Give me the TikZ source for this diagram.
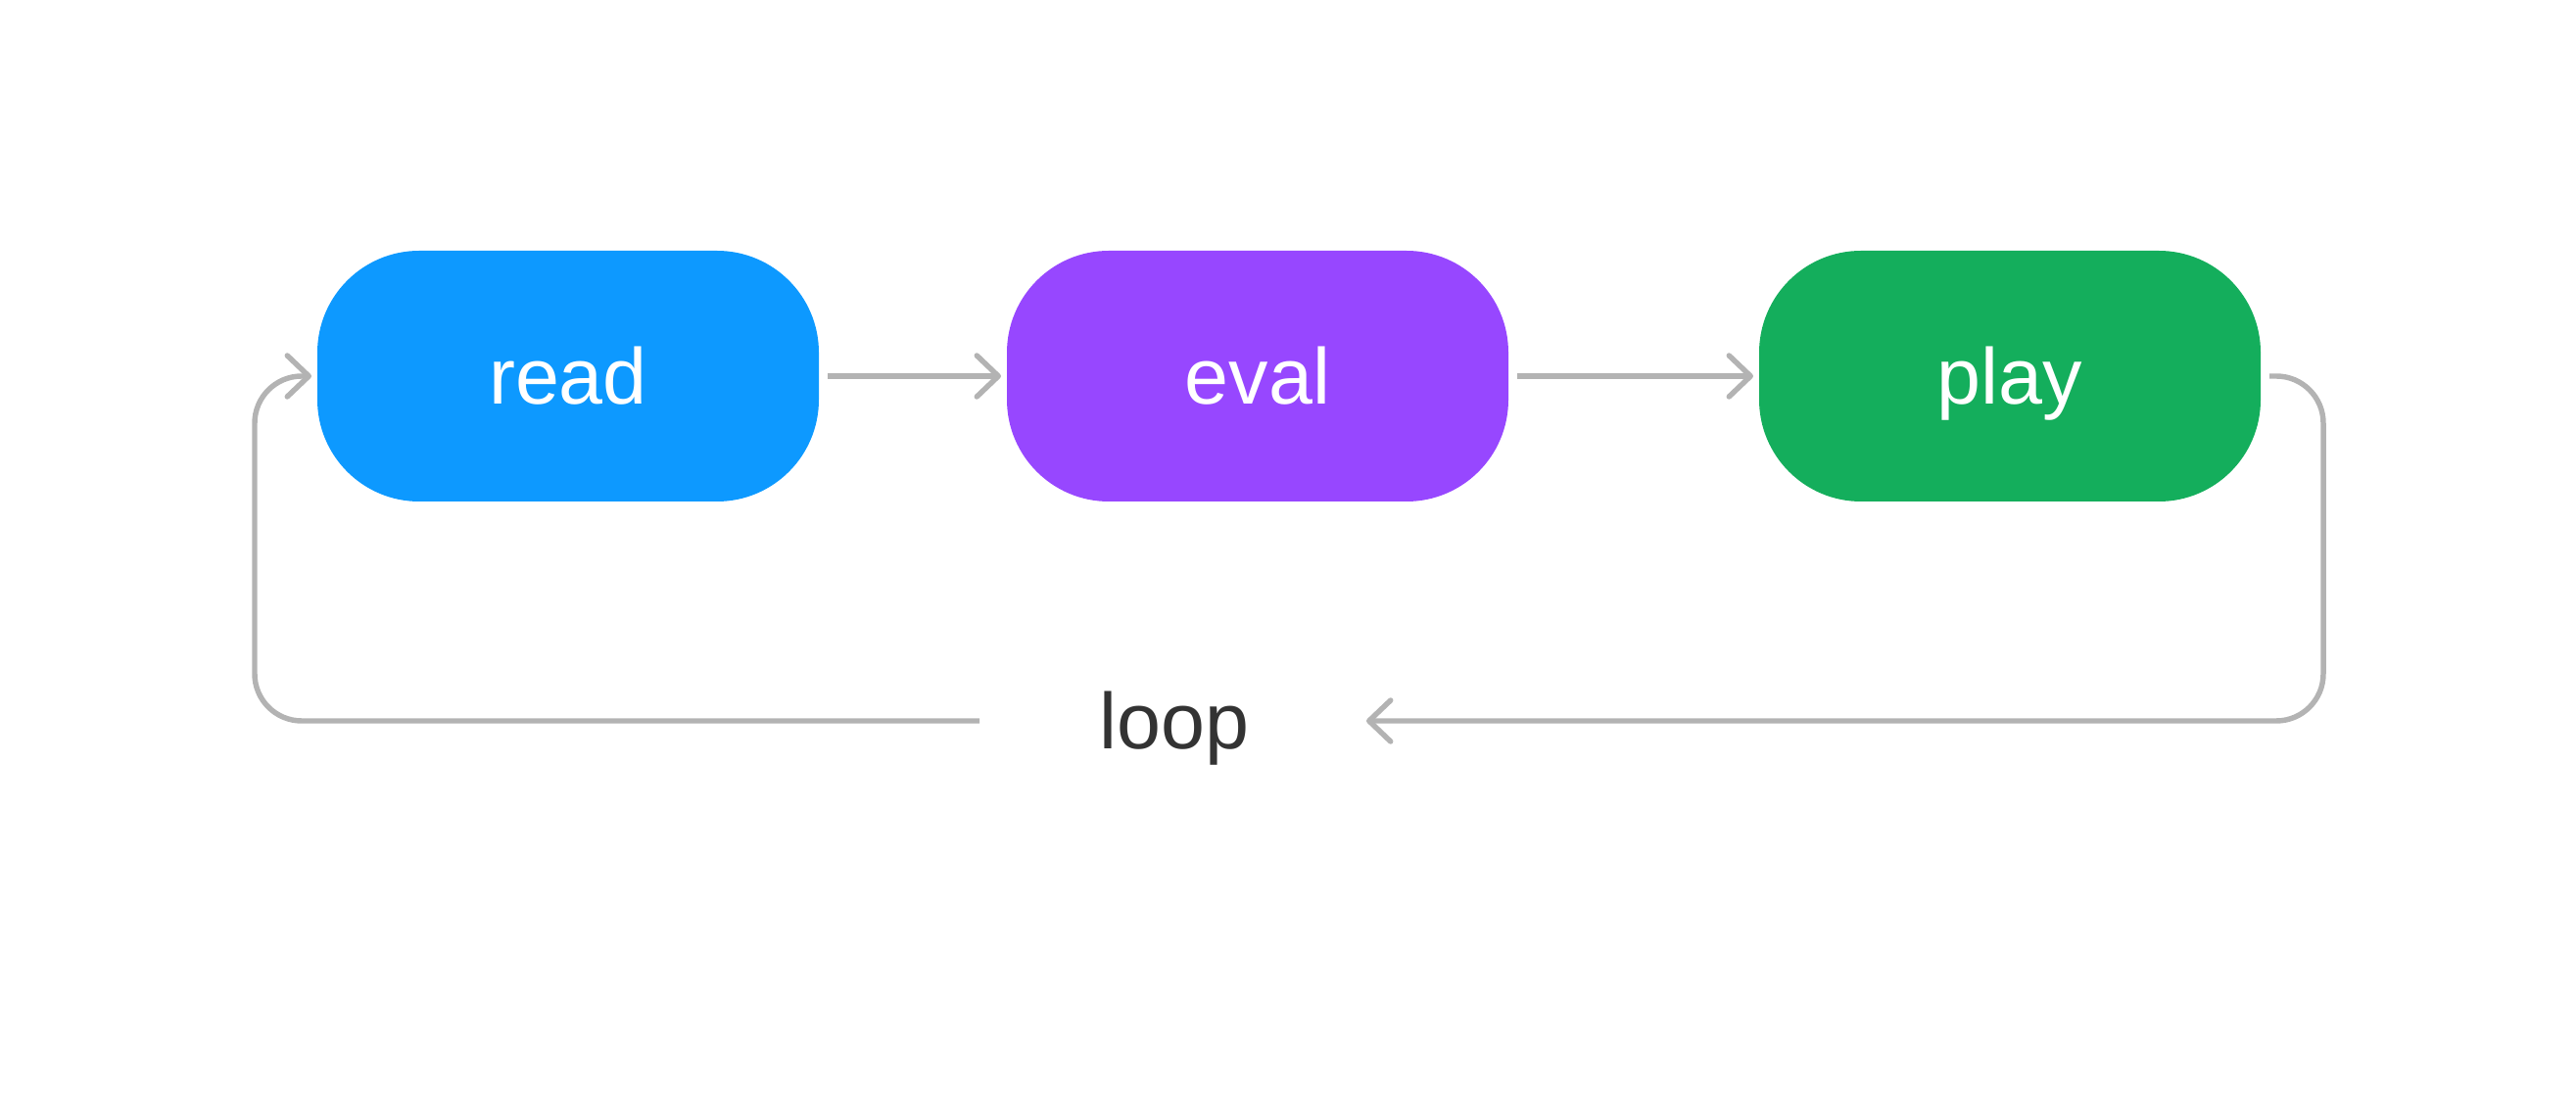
\documentclass[tikz,border=0pt]{standalone}
\usepackage{fontspec}
\setmainfont{Liberation Sans}
\usetikzlibrary{positioning,arrows.meta}

\definecolor{readblue}{HTML}{0D99FF}
\definecolor{evalpurple}{HTML}{9747FF}
\definecolor{playgreen}{HTML}{14AE5C}
\definecolor{linegray}{HTML}{B3B3B3}
\definecolor{labelgray}{HTML}{333333}

\tikzset{
  stage/.style={rectangle, rounded corners=10.4mm, minimum width=5.12cm,
    minimum height=2.56cm, inner sep=0pt, outer sep=0pt, text=white,
    font=\fontsize{23}{28}\selectfont, text height=5.8mm, text depth=0pt},
  flow/.style={draw=linegray, line width=1.55pt,
    -{Straight Barb[length=2.2mm,width=4.2mm,round]},
    shorten <=0.9mm, shorten >=0.6mm},
}

\begin{document}
\begin{tikzpicture}
  % canvas
  \useasboundingbox (0,0) rectangle (26.3,11.2);

  % the three stages
  \node[stage, fill=readblue] (read) at (5.80,7.36) {read};
  \node[stage, fill=evalpurple, right=1.92cm of read] (eval) {eval};
  \node[stage, fill=playgreen, right=2.56cm of eval] (play) {play};

  % label in the gap of the return line
  \node[minimum width=3.8cm, inner sep=0pt, outer sep=0pt, text=labelgray,
    font=\fontsize{23}{28}\selectfont, text height=5.8mm, text depth=0pt]
    (loop) at (11.99,3.84) {loop};

  % forward arrows
  \draw[flow] (read) -- (eval);
  \draw[flow] (eval) -- (play);

  % return line
  \draw[flow, rounded corners=4.8mm] (play.east) -- ([xshift=6.4mm]play.east) |- (loop.east);
  \draw[flow, rounded corners=4.8mm] (loop.west) -| ([xshift=-6.4mm]read.west) -- (read.west);
\end{tikzpicture}
\end{document}
